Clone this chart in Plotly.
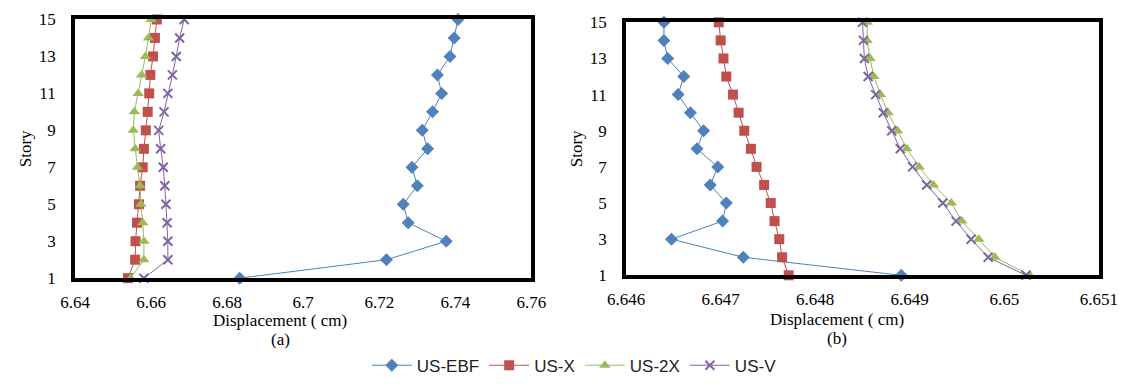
import plotly.graph_objects as go

stories = list(range(1, 16))

# (a) displacements, story 1..15
a_ebf = [6.6833, 6.7219, 6.7376, 6.7276, 6.7263, 6.7300, 6.7286, 6.7327, 6.7313, 6.7340, 6.7364, 6.7353, 6.7386, 6.7397, 6.7407]
a_x   = [6.6539, 6.6558, 6.6559, 6.6563, 6.6568, 6.6571, 6.6578, 6.6581, 6.6586, 6.6591, 6.6595, 6.6598, 6.6605, 6.6610, 6.6615]
a_2x  = [6.6546, 6.6581, 6.6581, 6.6578, 6.6573, 6.6571, 6.6564, 6.6558, 6.6553, 6.6556, 6.6566, 6.6575, 6.6585, 6.6593, 6.6600]
a_v   = [6.6581, 6.6644, 6.6644, 6.6642, 6.6639, 6.6636, 6.6632, 6.6625, 6.6620, 6.6634, 6.6644, 6.6656, 6.6666, 6.6675, 6.6687]

# (b) displacements, story 1..15
b_ebf = [6.64891, 6.64724, 6.64648, 6.64702, 6.64706, 6.64689, 6.64697, 6.64675, 6.64682, 6.64668, 6.64655, 6.64661, 6.64644, 6.64640, 6.64640]
b_x   = [6.64772, 6.64765, 6.64762, 6.64757, 6.64753, 6.64746, 6.64738, 6.64732, 6.64725, 6.64719, 6.64713, 6.64706, 6.64703, 6.64700, 6.64698]
b_2x  = [6.65027, 6.64990, 6.64973, 6.64955, 6.64944, 6.64925, 6.64910, 6.64897, 6.64887, 6.64877, 6.64869, 6.64862, 6.64858, 6.64855, 6.64855]
b_v   = [6.65023, 6.64983, 6.64965, 6.64949, 6.64935, 6.64918, 6.64903, 6.64890, 6.64881, 6.64872, 6.64864, 6.64856, 6.64852, 6.64851, 6.64850]

names = ["US-EBF", "US-X", "US-2X", "US-V"]
colors = ["#4F81BD", "#C0504D", "#9BBB59", "#8064A2"]
symbols = ["diamond", "square", "triangle-up", "x-thin"]
sizes = [10, 10, 10, 9]

a_ticks = [6.64, 6.66, 6.68, 6.70, 6.72, 6.74, 6.76]
a_ticktext = ["6.64", "6.66", "6.68", "6.7", "6.72", "6.74", "6.76"]
b_ticks = [6.646, 6.647, 6.648, 6.649, 6.650, 6.651]
b_ticktext = ["6.646", "6.647", "6.648", "6.649", "6.65", "6.651"]
y_ticks = [1, 3, 5, 7, 9, 11, 13, 15]

W, H = 1142, 389
fig = go.Figure()

for i, (da, db) in enumerate(zip([a_ebf, a_x, a_2x, a_v], [b_ebf, b_x, b_2x, b_v])):
    mk = dict(symbol=symbols[i], size=sizes[i], color=colors[i],
              line=dict(color=colors[i], width=2 if i == 3 else 0))
    fig.add_trace(go.Scatter(x=da, y=stories, mode="lines+markers", name=names[i],
                             line=dict(color=colors[i], width=1), marker=mk,
                             xaxis="x", yaxis="y", cliponaxis=False, legendgroup=names[i]))
    fig.add_trace(go.Scatter(x=db, y=stories, mode="lines+markers", name=names[i],
                             line=dict(color=colors[i], width=1), marker=mk,
                             xaxis="x2", yaxis="y2", cliponaxis=False, legendgroup=names[i],
                             showlegend=False))

serif = "Liberation Serif"

def f():
    return dict(family=serif, size=17, color="#000")

def xax(domain, rng, tv, tt, anchor):
    return dict(domain=domain, range=rng, tickmode="array", tickvals=tv, ticktext=tt,
                showgrid=False, zeroline=False,
                showline=True, mirror=True, linecolor="black", linewidth=4, ticks="",
                tickfont=f(), ticklabelstandoff=5, anchor=anchor)

def yax(domain, anchor):
    return dict(domain=domain, range=[1, 15], tickmode="array", tickvals=y_ticks,
                showgrid=False, zeroline=False,
                showline=True, mirror=True, linecolor="black", linewidth=4, ticks="",
                tickfont=f(), ticklabelstandoff=12, anchor=anchor,
                title=dict(text="Story", font=f(), standoff=4))

xa_dom = [58 / W, 530 / W]
ya_dom = [1 - 283 / H, 1 - 11 / H]
xb_dom = [628 / W, 1117 / W]
yb_dom = [1 - 280 / H, 1 - 14 / H]

fig.update_layout(
    width=W, height=H,
    font=f(),
    margin=dict(l=0, r=0, t=0, b=0),
    paper_bgcolor="white", plot_bgcolor="white",
    xaxis=xax(xa_dom, [6.64, 6.76], a_ticks, a_ticktext, "y"),
    yaxis=yax(ya_dom, "x"),
    xaxis2=xax(xb_dom, [6.646, 6.651], b_ticks, b_ticktext, "y2"),
    yaxis2=yax(yb_dom, "x2"),
    legend=dict(orientation="h", x=0.503, xanchor="center", y=1 - 375 / H, yanchor="middle",
                font=dict(family="Liberation Sans Narrow, Liberation Sans, sans-serif", size=17, color="#222"),
                itemwidth=40, tracegroupgap=0, bgcolor="rgba(0,0,0,0)"),
    showlegend=True,
)

ann = [
    ("Displacement ( cm)", 270, 327),
    ("(a)", 270, 347),
    ("Displacement ( cm)", 846, 326),
    ("(b)", 846, 346),
]
for t, px, py in ann:
    fig.add_annotation(text=t, x=px / W, y=1 - py / H, xref="paper", yref="paper",
                       showarrow=False, font=f(), xanchor="center", yanchor="middle")

fig.write_html("out.html")
